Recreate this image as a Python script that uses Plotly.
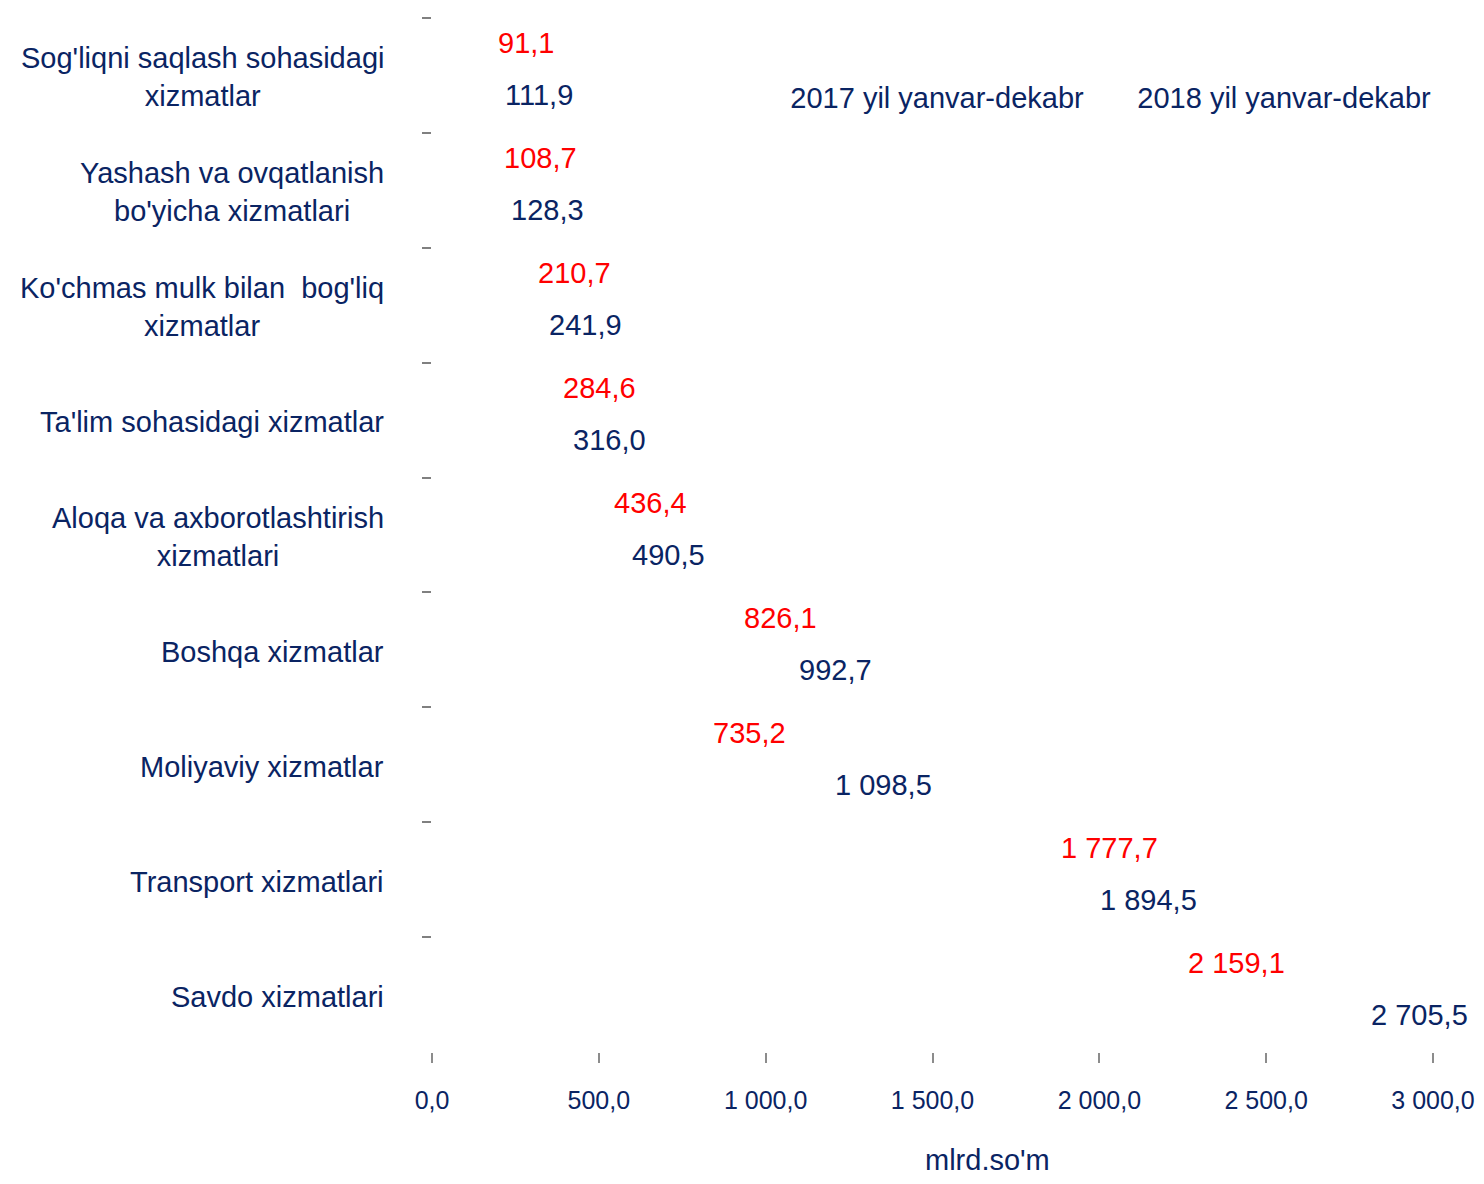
import plotly.graph_objects as go

categories = [
    "Sog'liqni saqlash sohasidagi<br>xizmatlar",
    "Yashash va ovqatlanish<br>bo'yicha xizmatlari",
    "Ko'chmas mulk bilan  bog'liq<br>xizmatlar",
    "Ta'lim sohasidagi xizmatlar",
    "Aloqa va axborotlashtirish<br>xizmatlari",
    "Boshqa xizmatlar",
    "Moliyaviy xizmatlar",
    "Transport xizmatlari",
    "Savdo xizmatlari",
]
series_names = ["2017 yil yanvar-dekabr", "2018 yil yanvar-dekabr"]
values_2017 = [91.1, 108.7, 210.7, 284.6, 436.4, 826.1, 735.2, 1777.7, 2159.1]
values_2018 = [111.9, 128.3, 241.9, 316.0, 490.5, 992.7, 1098.5, 1894.5, 2705.5]
x_ticks = [0, 500, 1000, 1500, 2000, 2500, 3000]
axis_title = "mlrd.so'm"

NAVY = "#0a2463"
RED = "#ff0000"
FONT = "Liberation Sans, Arial, sans-serif"
FS = 29


def fmt(v):
    return f"{v:,.1f}".replace(",", " ").replace(".", ",")


fig = go.Figure()
fig.add_trace(go.Bar(y=categories, x=values_2017, orientation="h", name=series_names[0],
                     marker=dict(color="rgba(0,0,0,0)", line=dict(width=0))))
fig.add_trace(go.Bar(y=categories, x=values_2018, orientation="h", name=series_names[1],
                     marker=dict(color="rgba(0,0,0,0)", line=dict(width=0))))

for vals, col, ysh in ((values_2017, RED, 32), (values_2018, NAVY, -20)):
    for c, v in zip(categories, vals):
        fig.add_annotation(x=v, y=c, xref="x", yref="y", text=fmt(v), showarrow=False,
                           xanchor="left", yanchor="middle", xshift=34, yshift=ysh,
                           font=dict(family=FONT, size=FS, color=col))

for c in categories:
    fig.add_annotation(x=0, y=c, xref="paper", yref="y", text=c, showarrow=False,
                       xanchor="right", yanchor="middle", align="center", xshift=-46, yshift=-2,
                       font=dict(family=FONT, size=FS, color=NAVY))

fig.add_annotation(x=0.555, y=0, xref="paper", yref="paper", text=axis_title, showarrow=False,
                   xanchor="center", yanchor="top", yshift=-90,
                   font=dict(family=FONT, size=FS, color=NAVY))

fig.update_layout(
    width=1468, height=1168,
    margin=dict(l=424, r=43, t=10, b=124, autoexpand=False),
    paper_bgcolor="white", plot_bgcolor="white",
    barmode="group", bargap=0.2, bargroupgap=0,
    separators=", ",
    font=dict(family=FONT, size=FS, color=NAVY),
    showlegend=True,
    legend=dict(orientation="h", x=0.318, y=0.924, xanchor="left", yanchor="middle",
                bgcolor="rgba(0,0,0,0)", font=dict(family=FONT, size=FS, color=NAVY),
                entrywidth=302, entrywidthmode="pixels", itemclick=False),
    xaxis=dict(range=[0, 3000], tickvals=x_ticks, tickformat=",.1f", showgrid=False,
               zeroline=False, showline=False, ticks="outside", ticklen=10, tickwidth=2,
               tickcolor="#8c8c8c", ticklabelstandoff=16, ticklabeloverflow="allow",
               tickfont=dict(family=FONT, size=25, color=NAVY)),
    yaxis=dict(autorange="reversed", showticklabels=False, showgrid=False, zeroline=False,
               showline=False, ticks="outside", tickson="boundaries", ticklen=9, tickwidth=2,
               tickcolor="#808080"),
)

fig.write_html("out.html")
